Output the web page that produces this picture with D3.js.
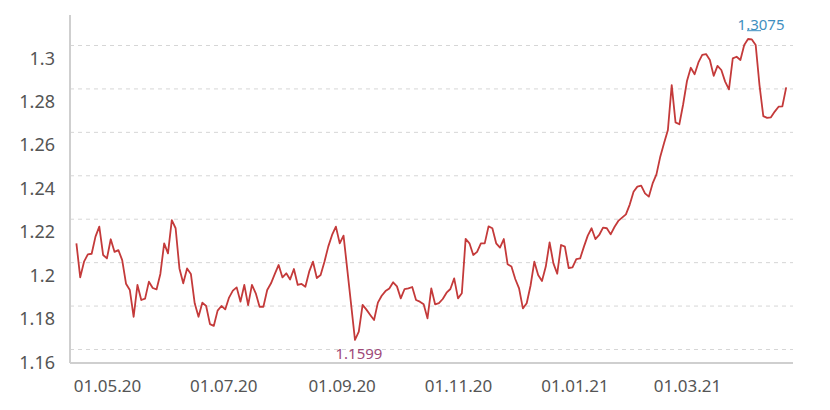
<!DOCTYPE html>
<html><head><meta charset="utf-8">
<script src="https://cdn.jsdelivr.net/npm/d3@7"></script>
<style>
body{margin:0;background:#fff;}
text{font-family:"Noto Sans","Open Sans",sans-serif;}
</style>
</head><body>
<svg id="chart" width="830" height="410"></svg>
<script>
// ---- data ----
const startDate = "2020-04-15";
const stepDays = 2;
const values = [
1.2073,1.1906,1.1983,1.2019,1.2022,1.2106,1.2155,1.2016,1.1999,1.2093,
1.2031,1.2040,1.1991,1.1875,1.1844,1.1713,1.1869,1.1795,1.1802,1.1885,
1.1854,1.1847,1.1923,1.2073,1.2024,1.2187,1.2147,1.1950,1.1877,1.1950,
1.1923,1.1779,1.1713,1.1782,1.1766,1.1677,1.1668,1.1743,1.1766,1.1749,
1.1807,1.1841,1.1857,1.1787,1.1869,1.1770,1.1869,1.1828,1.1762,1.1762,
1.1844,1.1877,1.1923,1.1967,1.1906,1.1926,1.1896,1.1947,1.1869,1.1874,
1.1860,1.1934,1.1983,1.1903,1.1918,1.1983,1.2057,1.2114,1.2155,1.2073,
1.2111,1.1942,1.1771,1.1599,1.1640,1.1771,1.1748,1.1722,1.1697,1.1782,
1.1816,1.1839,1.1852,1.1882,1.1862,1.1803,1.1849,1.1852,1.1859,1.1795,
1.1787,1.1774,1.1705,1.1852,1.1774,1.1780,1.1800,1.1831,1.1849,1.1901,
1.1803,1.1828,1.2095,1.2073,1.2016,1.2031,1.2073,1.2073,1.2156,1.2147,
1.2073,1.2052,1.2094,1.1970,1.1959,1.1898,1.1852,1.1754,1.1779,1.1865,
1.1983,1.1918,1.1888,1.1959,1.2078,1.1975,1.1924,1.2065,1.2057,1.1952,
1.1955,1.1996,1.1999,1.2057,1.2111,1.2147,1.2094,1.2114,1.2150,1.2147,
1.2117,1.2153,1.2183,1.2199,1.2215,1.2263,1.2326,1.2351,1.2356,1.2318,
1.2302,1.2367,1.2411,1.2498,1.2565,1.2629,1.2849,1.2666,1.2657,1.2755,
1.2869,1.2934,1.2902,1.2960,1.2997,1.3001,1.2972,1.2894,1.2943,1.2923,
1.2866,1.2828,1.2980,1.2988,1.2972,1.3046,1.3075,1.3073,1.3046,1.2849,
1.2697,1.2688,1.2691,1.2719,1.2743,1.2745,1.2838
];
const yTicks = [1.16, 1.18, 1.20, 1.22, 1.24, 1.26, 1.28, 1.30];
const yTickLabels = ["1.16", "1.18", "1.2", "1.22", "1.24", "1.26", "1.28", "1.3"];
const xTickDates = ["2020-05-01", "2020-07-01", "2020-09-01", "2020-11-01", "2021-01-01", "2021-03-01"];
const xTickLabels = ["01.05.20", "01.07.20", "01.09.20", "01.11.20", "01.01.21", "01.03.21"];
const minLabel = "1.1599";
const maxLabel = "1.3075";

// ---- build ----
(function () {
const parse = d3.utcParse("%Y-%m-%d");
const t0 = parse(startDate);
const dates = values.map((v, i) => d3.utcDay.offset(t0, i * stepDays));
const data = values.map((v, i) => ({date: dates[i], value: v}));

const svg = d3.select("#chart");
const mLeft = 70, mRight = 793, mBottom = 363, mTop = 15;

const x = d3.scaleUtc()
  .domain([dates[0], dates[dates.length - 1]])
  .range([76.4, 786.2]);
const yAxisScale = d3.scaleLinear().domain([1.16, 1.30]).range([349, 45]);
const yLine = d3.scaleLinear().domain([d3.min(values), d3.max(values)]).range([340, 39]);

const font = '"Noto Sans","Open Sans",sans-serif';

// grid + y labels
const gy = svg.append("g").attr("transform", `translate(${mLeft},0)`)
  .call(d3.axisLeft(yAxisScale).tickValues(yTicks)
    .tickSize(-(mRight - mLeft)).tickPadding(15)
    .tickFormat((d, i) => yTickLabels[i]));
gy.select(".domain").remove();
gy.selectAll(".tick line").attr("stroke", "#d6d6d6").attr("stroke-width", 1)
  .attr("stroke-dasharray", "4,4");
gy.selectAll(".tick text").attr("dy", 19).attr("fill", "#555")
  .style("font-size", "18px").style("font-family", font);

// x labels
const gx = svg.append("g").attr("transform", `translate(0,${mBottom})`)
  .call(d3.axisBottom(x).tickValues(xTickDates.map(parse))
    .tickSize(0).tickPadding(17)
    .tickFormat((d, i) => xTickLabels[i]));
gx.select(".domain").remove();
gx.selectAll(".tick text").attr("fill", "#555")
  .style("font-size", "17px").style("font-family", font);

// axis lines
svg.append("line").attr("x1", mLeft).attr("x2", mLeft).attr("y1", mTop).attr("y2", mBottom)
  .attr("stroke", "#cfcfcf").attr("stroke-width", 2);
svg.append("line").attr("x1", mLeft).attr("x2", mRight).attr("y1", mBottom).attr("y2", mBottom)
  .attr("stroke", "#cfcfcf").attr("stroke-width", 2);

// line
svg.append("path").datum(data)
  .attr("fill", "none").attr("stroke", "#c43a3a").attr("stroke-width", 1.8)
  .attr("stroke-linejoin", "round")
  .attr("d", d3.line().x(d => x(d.date)).y(d => yLine(d.value)));

// annotations
const minD = data[d3.minIndex(values)];
const maxD = data[d3.maxIndex(values)];
svg.append("text").attr("x", x(minD.date) + 4).attr("y", yLine(minD.value) + 19)
  .attr("text-anchor", "middle").attr("fill", "#a04a78").style("font-size", "15px")
  .style("font-family", font).text(minLabel);
svg.append("text").attr("x", x(maxD.date) + 13).attr("y", yLine(maxD.value) - 9)
  .attr("text-anchor", "middle").attr("fill", "#3f8fc0").style("font-size", "15px")
  .style("font-family", font).text(maxLabel);
svg.append("line").attr("x1", x(maxD.date) - 1).attr("x2", x(maxD.date) + 13)
  .attr("y1", yLine(maxD.value) - 8.3).attr("y2", yLine(maxD.value) - 8.3)
  .attr("stroke", "#3f8fc0").attr("stroke-width", 1);
})();
</script>
</body></html>
